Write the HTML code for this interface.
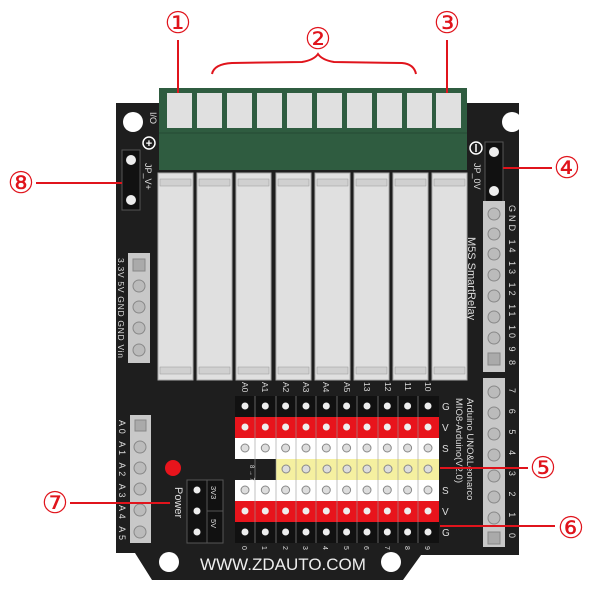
<!DOCTYPE html>
<html><head><meta charset="utf-8"><style>
html,body{margin:0;padding:0;background:#fff;}
svg{display:block;font-family:"Liberation Sans",sans-serif;}
</style></head><body>
<svg width="600" height="600" viewBox="0 0 600 600" xmlns="http://www.w3.org/2000/svg">
<path d="M116 103 H519 V555 H421 L403 580 H152 L135 553 H116 Z" fill="#1e1e1e"/>
<circle cx="133" cy="122" r="10" fill="#fff"/>
<circle cx="512" cy="122" r="10" fill="#fff"/>
<circle cx="169" cy="562" r="10" fill="#fff"/>
<circle cx="391" cy="562" r="10" fill="#fff"/>
<rect x="159" y="88" width="308" height="82" fill="#2f5c40"/>
<line x1="159" y1="133" x2="467" y2="133" stroke="#244a33" stroke-width="1"/>
<g fill="#e0e0e0">
<rect x="167" y="93" width="25" height="35"/><rect x="197" y="93" width="25" height="35"/>
<rect x="227" y="93" width="25" height="35"/><rect x="257" y="93" width="25" height="35"/>
<rect x="287" y="93" width="25" height="35"/><rect x="317" y="93" width="25" height="35"/>
<rect x="347" y="93" width="25" height="35"/><rect x="377" y="93" width="25" height="35"/>
<rect x="407" y="93" width="25" height="35"/><rect x="436" y="93" width="25" height="35"/>
</g>
<text x="150" y="112" fill="#ddd" font-size="9" transform="rotate(90 150 112)">I/O</text>
<circle cx="149" cy="143" r="6" fill="none" stroke="#fff" stroke-width="1.5"/>
<text x="149" y="147" fill="#fff" font-size="11" text-anchor="middle" font-weight="bold">+</text>
<circle cx="476" cy="148" r="6" fill="none" stroke="#fff" stroke-width="1.5"/>
<line x1="476" y1="144" x2="476" y2="152" stroke="#fff" stroke-width="1.5"/>
<g>
<g id="r"><rect x="158" y="173" width="35" height="207" fill="#e0e0e0" stroke="#aaa" stroke-width="1"/><rect x="160" y="179" width="31" height="7" fill="#d0d0d0" stroke="#999" stroke-width="0.5"/><rect x="160" y="367" width="31" height="7" fill="#d0d0d0" stroke="#999" stroke-width="0.5"/></g>
<use href="#r" x="39"/><use href="#r" x="78"/><use href="#r" x="118"/><use href="#r" x="157"/><use href="#r" x="196"/><use href="#r" x="235"/><use href="#r" x="274"/>
</g>
<rect x="122" y="150" width="18" height="60" fill="#111" stroke="#555"/>
<circle cx="131" cy="160" r="5" fill="#eee"/><circle cx="131" cy="200" r="5" fill="#eee"/>
<text x="145" y="163" fill="#ddd" font-size="9" transform="rotate(90 145 163)">JP_V+</text>
<rect x="485" y="142" width="18" height="60" fill="#111" stroke="#555"/>
<circle cx="494" cy="152" r="5" fill="#eee"/><circle cx="494" cy="191" r="5" fill="#eee"/>
<text x="474" y="163" fill="#ddd" font-size="9" transform="rotate(90 474 163)">JP_0V</text>
<rect x="128" y="253" width="22" height="110" fill="#c8c8c8"/>
<rect x="133" y="259" width="12" height="12" fill="#aaa" stroke="#888"/>
<g fill="#bbb" stroke="#888"><circle cx="139" cy="286" r="6"/><circle cx="139" cy="307" r="6"/><circle cx="139" cy="328" r="6"/><circle cx="139" cy="350" r="6"/></g>
<text x="118" y="258" fill="#ddd" font-size="8.5" textLength="100" lengthAdjust="spacing" transform="rotate(90 118 258)">3.3V 5V  GND GND Vin</text>
<rect x="483" y="201" width="22" height="171" fill="#c8c8c8"/>
<g fill="#bbb" stroke="#888"><circle cx="494" cy="214" r="6"/><circle cx="494" cy="234" r="6"/><circle cx="494" cy="254" r="6"/><circle cx="494" cy="275" r="6"/><circle cx="494" cy="296" r="6"/><circle cx="494" cy="317" r="6"/><circle cx="494" cy="338" r="6"/></g>
<rect x="488" y="353" width="12" height="12" fill="#aaa" stroke="#888"/>
<text x="509" y="205" fill="#ddd" font-size="9" textLength="160" lengthAdjust="spacing" transform="rotate(90 509 205)">GND 14 13 12 11 10 9 8</text>
<text x="468" y="237" fill="#ddd" font-size="11" transform="rotate(90 468 237)">M5S SmartRelay</text>
<rect x="483" y="378" width="22" height="169" fill="#c8c8c8"/>
<g fill="#bbb" stroke="#888"><circle cx="494" cy="392" r="6"/><circle cx="494" cy="413" r="6"/><circle cx="494" cy="434" r="6"/><circle cx="494" cy="455" r="6"/><circle cx="494" cy="476" r="6"/><circle cx="494" cy="497" r="6"/><circle cx="494" cy="518" r="6"/></g>
<rect x="488" y="532" width="12" height="12" fill="#aaa" stroke="#888"/>
<text x="509" y="388" fill="#ddd" font-size="9" textLength="150" lengthAdjust="spacing" transform="rotate(90 509 388)">7 6 5 4 3 2 1 0</text>
<text x="467" y="398" fill="#ddd" font-size="9.5" transform="rotate(90 467 398)">Arduino UNO&amp;Leonarco</text>
<text x="456" y="398" fill="#ddd" font-size="9.5" transform="rotate(90 456 398)">MIO8-Arduino(V2.0)</text>
<rect x="130" y="415" width="21" height="128" fill="#c8c8c8"/>
<rect x="135" y="420" width="11" height="11" fill="#aaa" stroke="#888"/>
<g fill="#bbb" stroke="#888"><circle cx="140" cy="447" r="6"/><circle cx="140" cy="468" r="6"/><circle cx="140" cy="489" r="6"/><circle cx="140" cy="510" r="6"/><circle cx="140" cy="532" r="6"/></g>
<text x="119" y="420" fill="#ddd" font-size="9" textLength="120" lengthAdjust="spacing" transform="rotate(90 119 420)">A0 A1 A2 A3 A4 A5</text>
<circle cx="173" cy="468" r="8" fill="#e8141c"/>
<text x="175" y="487" fill="#ddd" font-size="11" transform="rotate(90 175 487)">Power</text>
<rect x="187" y="480" width="36" height="63" fill="#111" stroke="#555"/>
<line x1="207" y1="480" x2="207" y2="543" stroke="#555"/>
<line x1="207" y1="511" x2="223" y2="511" stroke="#555"/>
<circle cx="197" cy="490" r="3.5" fill="#eee"/><circle cx="197" cy="511" r="3.5" fill="#eee"/><circle cx="197" cy="532" r="3.5" fill="#eee"/>
<text x="211" y="486" fill="#ddd" font-size="7.5" transform="rotate(90 211 486)">3V3</text>
<text x="211" y="519" fill="#ddd" font-size="7.5" transform="rotate(90 211 519)">5V</text>
<rect x="235" y="396" width="204" height="21" fill="#111"/>
<rect x="235" y="417" width="204" height="21" fill="#e8141c"/>
<rect x="235" y="438" width="204" height="21" fill="#fff"/>
<rect x="276" y="459" width="163" height="21" fill="#f5f0a0"/>
<rect x="235" y="480" width="204" height="21" fill="#fff"/>
<rect x="235" y="501" width="204" height="21" fill="#e8141c"/>
<rect x="235" y="522" width="204" height="21" fill="#111"/>
<g stroke="#999" stroke-width="0.6">
<line x1="255" y1="396" x2="255" y2="543"/><line x1="276" y1="396" x2="276" y2="543"/><line x1="296" y1="396" x2="296" y2="543"/><line x1="316" y1="396" x2="316" y2="543"/><line x1="337" y1="396" x2="337" y2="543"/><line x1="357" y1="396" x2="357" y2="543"/><line x1="378" y1="396" x2="378" y2="543"/><line x1="398" y1="396" x2="398" y2="543"/><line x1="418" y1="396" x2="418" y2="543"/>
</g>
<g id="col">
<circle cx="245" cy="406" r="3.5" fill="#eee"/><circle cx="245" cy="427" r="3.5" fill="#eee"/><circle cx="245" cy="448" r="4" fill="#ddd" stroke="#888"/><circle cx="245" cy="490" r="4" fill="#ddd" stroke="#888"/><circle cx="245" cy="511" r="3.5" fill="#eee"/><circle cx="245" cy="532" r="3.5" fill="#eee"/>
</g>
<use href="#col" x="20.3"/><use href="#col" x="40.6"/><use href="#col" x="61"/><use href="#col" x="81.3"/><use href="#col" x="101.6"/><use href="#col" x="122"/><use href="#col" x="142.3"/><use href="#col" x="162.6"/><use href="#col" x="183"/>
<g fill="#ddd" stroke="#888"><circle cx="286" cy="469" r="4"/><circle cx="306" cy="469" r="4"/><circle cx="327" cy="469" r="4"/><circle cx="347" cy="469" r="4"/><circle cx="367" cy="469" r="4"/><circle cx="388" cy="469" r="4"/><circle cx="408" cy="469" r="4"/><circle cx="428" cy="469" r="4"/></g>
<text x="250" y="465" fill="#ddd" font-size="6" transform="rotate(90 250 465)">8 → 7</text>
<g fill="#ddd" font-size="10">
<text x="442" y="410">G</text><text x="442" y="431">V</text><text x="442" y="452">S</text><text x="442" y="494">S</text><text x="442" y="515">V</text><text x="442" y="536">G</text>
</g>
<g fill="#ddd" font-size="8.5">
<text transform="translate(242 382) rotate(90)">A0</text><text transform="translate(262 382) rotate(90)">A1</text><text transform="translate(283 382) rotate(90)">A2</text><text transform="translate(303 382) rotate(90)">A3</text><text transform="translate(323 382) rotate(90)">A4</text><text transform="translate(344 382) rotate(90)">A5</text><text transform="translate(364 382) rotate(90)">13</text><text transform="translate(385 382) rotate(90)">12</text><text transform="translate(405 382) rotate(90)">11</text><text transform="translate(425 382) rotate(90)">10</text>
</g>
<g fill="#ddd" font-size="7">
<text transform="translate(242 546) rotate(90)">0</text><text transform="translate(262 546) rotate(90)">1</text><text transform="translate(283 546) rotate(90)">2</text><text transform="translate(303 546) rotate(90)">3</text><text transform="translate(323 546) rotate(90)">4</text><text transform="translate(344 546) rotate(90)">5</text><text transform="translate(364 546) rotate(90)">6</text><text transform="translate(385 546) rotate(90)">7</text><text transform="translate(405 546) rotate(90)">8</text><text transform="translate(425 546) rotate(90)">9</text>
</g>
<text x="283" y="570" fill="#eee" font-size="17" text-anchor="middle">WWW.ZDAUTO.COM</text>
<g stroke="#e0141c" stroke-width="2" fill="none">
<line x1="178" y1="40" x2="178" y2="93"/>
<line x1="447" y1="40" x2="447" y2="93"/>
<path d="M212 74 Q214 64 232 63 L302 62 Q314 60 318 54 Q322 60 334 62 L402 63 Q414 64 416 74"/>
<line x1="503" y1="168" x2="552" y2="168"/>
<line x1="36" y1="183" x2="122" y2="183"/>
<line x1="440" y1="468" x2="528" y2="468"/>
<line x1="440" y1="526" x2="555" y2="526"/>
<line x1="70" y1="503" x2="170" y2="503"/>
</g>
<g fill="#e0141c" font-size="30" text-anchor="middle">
<text x="178" y="33">①</text><text x="318" y="49">②</text><text x="447" y="33">③</text>
<text x="567" y="178">④</text><text x="543" y="478">⑤</text><text x="571" y="538">⑥</text>
<text x="55" y="513">⑦</text><text x="21" y="193">⑧</text>
</g>
</svg>
</body></html>
